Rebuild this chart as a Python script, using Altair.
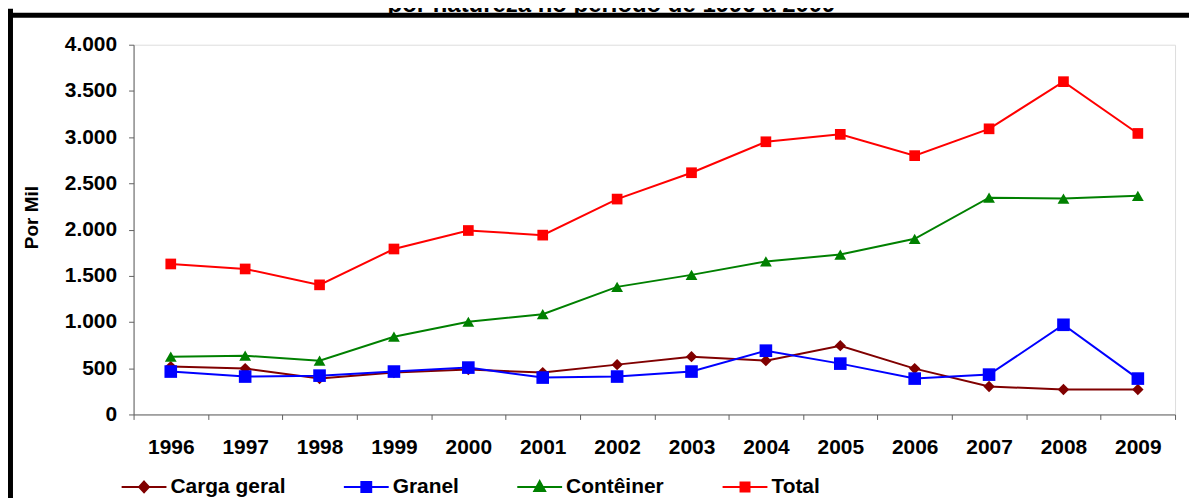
import altair as alt
import pandas as pd

anos = ["1996", "1997", "1998", "1999", "2000", "2001", "2002",
        "2003", "2004", "2005", "2006", "2007", "2008", "2009"]
carga_geral = [518, 496, 388, 453, 485, 453, 539, 625, 582, 744, 496, 302, 270, 270]
granel = [464, 410, 420, 464, 507, 399, 410, 464, 690, 550, 388, 431, 970, 388]
conteiner = [625, 636, 582, 841, 1003, 1085, 1380, 1510, 1655, 1730, 1900, 2345, 2335, 2365]
total = [1628, 1574, 1402, 1790, 1990, 1940, 2330, 2615, 2950, 3030, 2800, 3090, 3600, 3040]

series = ["Carga geral", "Granel", "Contêiner", "Total"]
cores = ["#800000", "#0000ff", "#008000", "#ff0000"]
titulo = "por natureza no período de 1996 a 2009"

rows = []
for nome, vals in zip(series, [carga_geral, granel, conteiner, total]):
    for a, v in zip(anos, vals):
        rows.append({"ano": a, "valor": v, "serie": nome})
df = pd.DataFrame(rows)

FONT = "Liberation Sans"
W, H = 1045, 371
PAD = {"left": 126, "top": 36, "right": 14, "bottom": 83}

x_enc = alt.X("ano:O", sort=anos,
              scale=alt.Scale(type="band", paddingInner=0, paddingOuter=0),
              axis=alt.Axis(title=None, labelAngle=0, tickBand="extent", tickSize=5,
                            tickColor="#606060", domainColor="#606060",
                            labelFont=FONT, labelFontSize=21, labelFontWeight="bold",
                            labelColor="black", labelPadding=28, labelBaseline="middle"))
y_enc = alt.Y("valor:Q",
              scale=alt.Scale(domain=[0, 4000], nice=False, zero=True),
              axis=alt.Axis(values=list(range(0, 4001, 500)), grid=False, tickSize=5,
                            tickColor="#606060", domainColor="#606060",
                            labelExpr="replace(format(datum.value, ','), ',', '.')",
                            labelFont=FONT, labelFontSize=21, labelFontWeight="bold",
                            labelColor="black", labelPadding=12,
                            title="Por Mil", titleFont=FONT, titleFontSize=19,
                            titleFontWeight="bold", titleColor="black",
                            titleAngle=270, titleX=-102, titleY=173,
                            titleAlign="center", titleBaseline="middle"))

base = alt.Chart(df)

shapes = ["diamond", "square", "triangle-up", "square"]
sizes = [130, 160, 140, 115]
line_layers = []
point_layers = []
for nome, cor, shp, sz in zip(series, cores, shapes, sizes):
    sub = base.transform_filter(alt.datum.serie == nome)
    line_layers.append(sub.mark_line(strokeWidth=2, color=cor).encode(x=x_enc, y=y_enc))
    point_layers.append(
        sub.mark_point(filled=True, shape=shp, size=sz, opacity=1, color=cor)
        .encode(x=x_enc, y=y_enc)
    )

leg_paths = [
    "M-1,0H1M0,-0.24L0.22,0L0,0.24L-0.22,0Z",
    "M-1,0H1M-0.22,-0.22H0.22V0.22H-0.22Z",
    "M-1,0H1M0,-0.26L0.24,0.18H-0.24Z",
    "M-1,0H1M-0.2,-0.2H0.2V0.2H-0.2Z",
]
leg = alt.Legend(title=None, orient="none", legendX=-13, legendY=420,
                 direction="horizontal", columns=4, columnPadding=54,
                 symbolSize=2025, symbolStrokeWidth=2, symbolOpacity=1,
                 labelFont=FONT, labelFontSize=21, labelFontWeight="bold",
                 labelColor="black", labelOffset=3, padding=0)
legend_layer = base.mark_point(filled=True, opacity=0).encode(
    x=x_enc, y=y_enc,
    color=alt.Color("serie:N", scale=alt.Scale(domain=series, range=cores), legend=leg),
    stroke=alt.Stroke("serie:N", scale=alt.Scale(domain=series, range=cores), legend=leg),
    shape=alt.Shape("serie:N", scale=alt.Scale(domain=series, range=leg_paths), legend=leg),
)

frame_df = pd.DataFrame({"k": [0]})
frame_left = alt.Chart(frame_df).mark_rule(color="black", strokeWidth=5).encode(
    x=alt.value(-123.5), y=alt.value(-36), y2=alt.value(H + 90))
frame_top = alt.Chart(frame_df).mark_rule(color="black", strokeWidth=5).encode(
    x=alt.value(-126), x2=alt.value(W + 20), y=alt.value(-29.5))

# chart title (partly cut off at the top edge, as in the reference)
title_text = alt.Chart(frame_df).mark_text(
    text=titulo, font=FONT, fontSize=24, fontWeight="bold", color="black",
    align="center", baseline="alphabetic",
).encode(x=alt.value(W / 2 - 43), y=alt.value(-33))

chart = alt.layer(*line_layers, *point_layers, legend_layer, frame_left, frame_top,
                  title_text).properties(
    width=W, height=H,
    padding=PAD,
    autosize=alt.AutoSizeParams(type="none"),
).configure_view(stroke=None).configure(background="white")

chart.save("out.html", embed_options={"renderer": "svg", "actions": False})
